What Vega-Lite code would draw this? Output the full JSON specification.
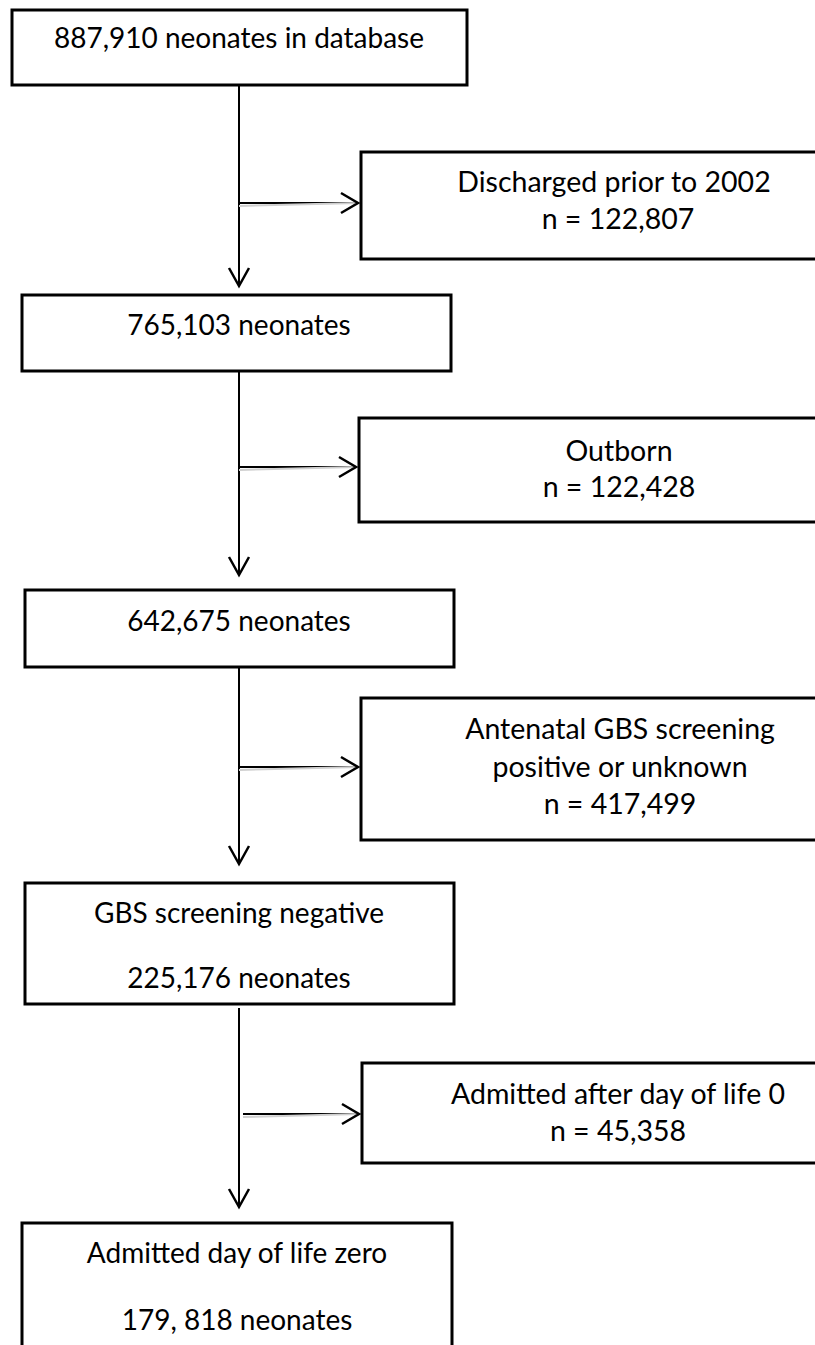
{
  "$schema": "https://vega.github.io/schema/vega-lite/v6.json",
  "width": 815,
  "height": 1345,
  "padding": 0,
  "autosize": {"type": "none"},
  "background": "white",
  "config": {"view": {"stroke": null}},
  "datasets": {
    "boxes": [
      {"id": "b1", "x1": 12, "x2": 467, "y1": 10, "y2": 85},
      {"id": "d1", "x1": 361, "x2": 875, "y1": 152, "y2": 259},
      {"id": "b2", "x1": 22, "x2": 451, "y1": 295, "y2": 371},
      {"id": "d2", "x1": 359, "x2": 875, "y1": 418, "y2": 522},
      {"id": "b3", "x1": 25, "x2": 454, "y1": 590, "y2": 667},
      {"id": "d3", "x1": 361, "x2": 875, "y1": 698, "y2": 840},
      {"id": "b4", "x1": 25, "x2": 454, "y1": 883, "y2": 1004},
      {"id": "d4", "x1": 362, "x2": 875, "y1": 1063, "y2": 1163},
      {"id": "b5", "x1": 22, "x2": 452, "y1": 1223, "y2": 1370}
    ],
    "links": [
      {"x1": 239, "y1": 85, "x2": 239, "y2": 286, "kind": "down"},
      {"x1": 239, "y1": 203, "x2": 358, "y2": 203, "kind": "right"},
      {"x1": 239, "y1": 371, "x2": 239, "y2": 575, "kind": "down"},
      {"x1": 239, "y1": 467, "x2": 356, "y2": 467, "kind": "right"},
      {"x1": 239, "y1": 667, "x2": 239, "y2": 864, "kind": "down"},
      {"x1": 239, "y1": 767, "x2": 358, "y2": 767, "kind": "right"},
      {"x1": 239, "y1": 1008, "x2": 239, "y2": 1207, "kind": "down"},
      {"x1": 243, "y1": 1114, "x2": 359, "y2": 1114, "kind": "right"}
    ],
    "labels": [
      {"text": "887,910 neonates in database", "x": 239, "y": 40, "col": "main"},
      {"text": "765,103 neonates", "x": 239, "y": 327, "col": "main"},
      {"text": "642,675 neonates", "x": 239, "y": 623, "col": "main"},
      {"text": "GBS screening negative", "x": 239, "y": 915, "col": "main"},
      {"text": "225,176 neonates", "x": 239, "y": 980, "col": "main"},
      {"text": "Admitted day of life zero", "x": 237, "y": 1255, "col": "main"},
      {"text": "179, 818 neonates", "x": 237, "y": 1322, "col": "main"},
      {"text": "Discharged prior to 2002", "x": 614, "y": 183, "col": "side"},
      {"text": "n = 122,807", "x": 618, "y": 220, "col": "side"},
      {"text": "Outborn", "x": 619, "y": 452, "col": "side"},
      {"text": "n = 122,428", "x": 619, "y": 488, "col": "side"},
      {"text": "Antenatal GBS screening", "x": 620, "y": 730, "col": "side"},
      {"text": "positive or unknown", "x": 620, "y": 768, "col": "side"},
      {"text": "n = 417,499", "x": 620, "y": 805, "col": "side"},
      {"text": "Admitted after day of life 0", "x": 618, "y": 1095, "col": "side"},
      {"text": "n = 45,358", "x": 618, "y": 1132, "col": "side"}
    ]
  },
  "layer": [
    {
      "data": {"name": "links"},
      "mark": {"type": "rule", "stroke": "#000000", "strokeWidth": 2},
      "encoding": {
        "x": {"field": "x1", "type": "quantitative", "scale": {"domain": [0, 815], "range": [0, 815]}, "axis": null},
        "y": {"field": "y1", "type": "quantitative", "scale": {"domain": [0, 1345], "range": [0, 1345]}, "axis": null},
        "x2": {"field": "x2"},
        "y2": {"field": "y2"}
      }
    },
    {
      "data": {"name": "links"},
      "transform": [{"filter": "datum.kind === 'right'"}],
      "mark": {"type": "rule", "stroke": "#cfcfcf", "strokeWidth": 2, "yOffset": 3},
      "encoding": {
        "x": {"field": "x1", "type": "quantitative", "scale": {"domain": [0, 815], "range": [0, 815]}, "axis": null},
        "y": {"field": "y1", "type": "quantitative", "scale": {"domain": [0, 1345], "range": [0, 1345]}, "axis": null},
        "x2": {"field": "x2"},
        "y2": {"field": "y2"}
      }
    },
    {
      "data": {"name": "links"},
      "mark": {"type": "point", "filled": false, "stroke": "#000000", "strokeWidth": 2.5, "size": 1600, "opacity": 1},
      "encoding": {
        "x": {"field": "x2", "type": "quantitative", "scale": {"domain": [0, 815], "range": [0, 815]}, "axis": null},
        "y": {"field": "y2", "type": "quantitative", "scale": {"domain": [0, 1345], "range": [0, 1345]}, "axis": null},
        "shape": {"field": "kind", "type": "nominal", "legend": null, "scale": {"domain": ["down", "right"], "range": ["M-0.5,-0.9L0,0L0.5,-0.9", "M-0.85,-0.5L0,0L-0.85,0.5"]}}
      }
    },
    {
      "data": {"name": "boxes"},
      "mark": {"type": "rect", "fill": "#ffffff", "stroke": "#000000", "strokeWidth": 3},
      "encoding": {
        "x": {"field": "x1", "type": "quantitative", "scale": {"domain": [0, 815], "range": [0, 815]}, "axis": null},
        "x2": {"field": "x2"},
        "y": {"field": "y1", "type": "quantitative", "scale": {"domain": [0, 1345], "range": [0, 1345]}, "axis": null},
        "y2": {"field": "y2"}
      }
    },
    {
      "data": {"name": "labels"},
      "transform": [{"filter": "datum.col === 'main'"}],
      "mark": {"type": "text", "font": "Lato", "fontSize": 28, "align": "center", "baseline": "middle", "color": "#000000"},
      "encoding": {
        "x": {"field": "x", "type": "quantitative", "scale": {"domain": [0, 815], "range": [0, 815]}, "axis": null},
        "y": {"field": "y", "type": "quantitative", "scale": {"domain": [0, 1345], "range": [0, 1345]}, "axis": null},
        "text": {"field": "text"}
      }
    },
    {
      "data": {"name": "labels"},
      "transform": [{"filter": "datum.col === 'side'"}],
      "mark": {"type": "text", "font": "Lato", "fontSize": 28.5, "align": "center", "baseline": "middle", "color": "#000000"},
      "encoding": {
        "x": {"field": "x", "type": "quantitative", "scale": {"domain": [0, 815], "range": [0, 815]}, "axis": null},
        "y": {"field": "y", "type": "quantitative", "scale": {"domain": [0, 1345], "range": [0, 1345]}, "axis": null},
        "text": {"field": "text"}
      }
    }
  ]
}
